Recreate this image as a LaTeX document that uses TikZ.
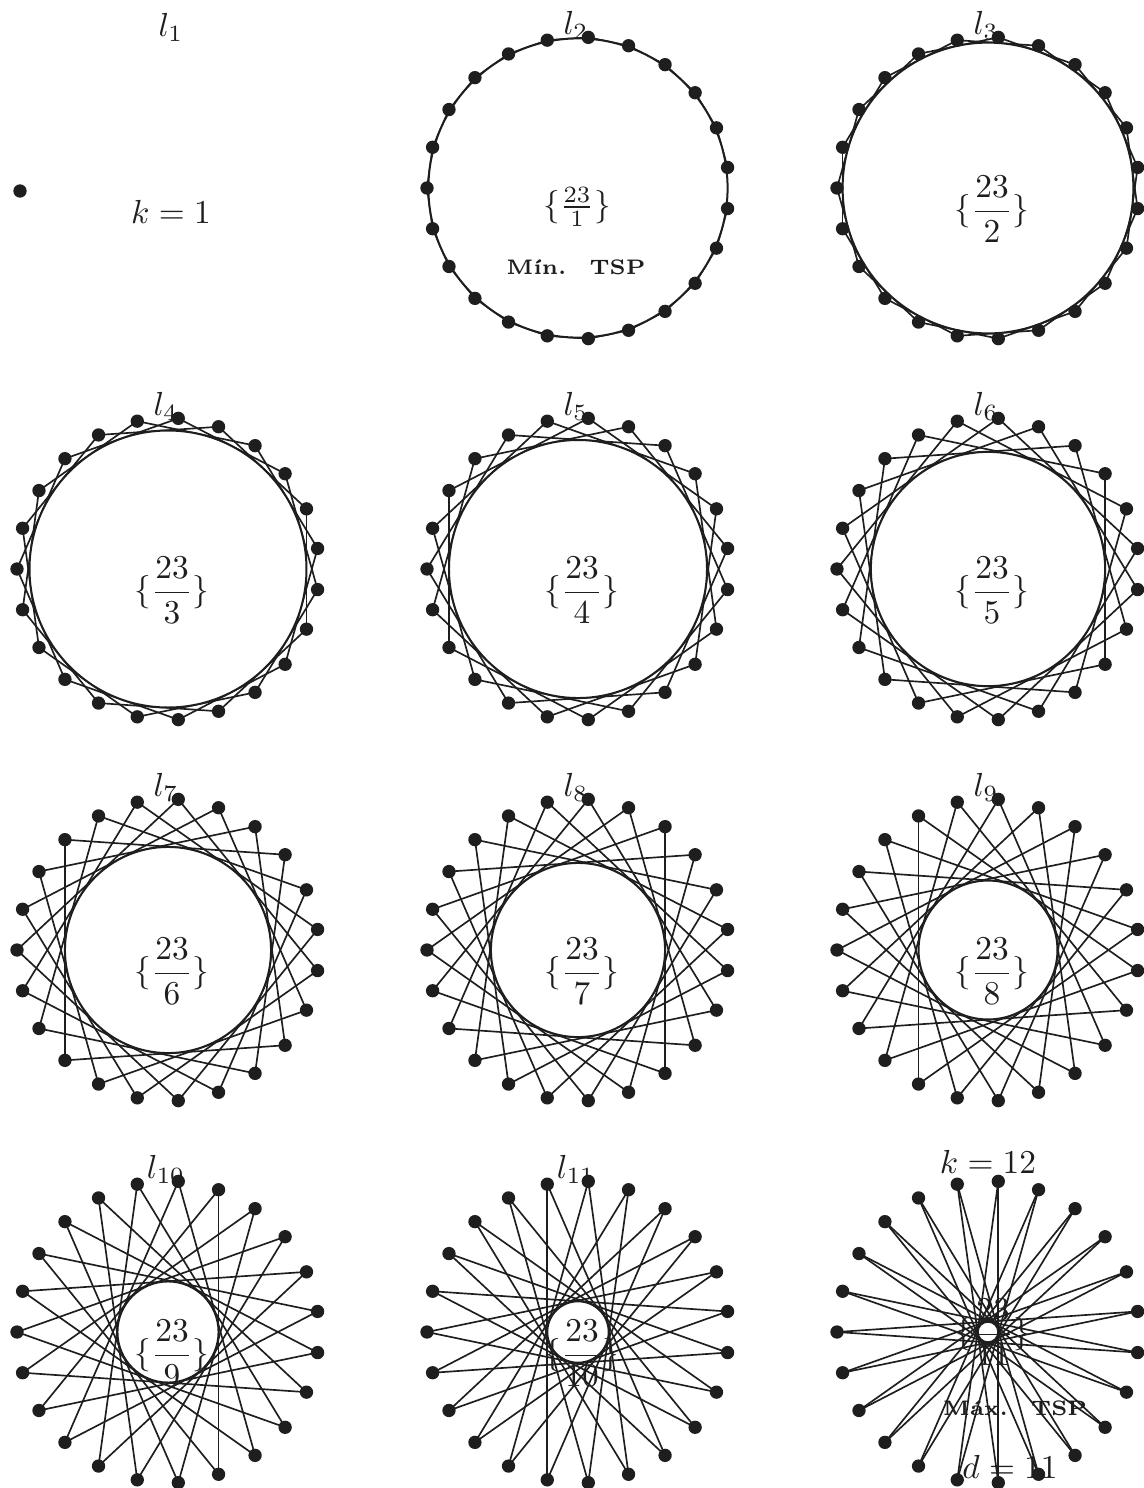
\documentclass[tikz,border=0pt]{standalone}
\usepackage{fontspec}
\usepackage{amsmath}
\definecolor{ink}{HTML}{1E1E1E}
\begin{document}
\begin{tikzpicture}[x=0.3pt,y=0.3pt,
  edge/.style={line width=0.5pt, draw=ink},
  envelope/.style={line width=0.6pt, draw=ink, fill=white},
  dot/.style={circle, fill=ink, inner sep=0pt, minimum size=4pt},
  lbl/.style={font=\fontsize{10}{12}\selectfont, text=ink, inner sep=0pt},
  tsp/.style={font=\fontsize{6.3}{7.5}\selectfont\bfseries, text=ink, inner sep=0pt}]
\useasboundingbox (0,0) rectangle (1144,-1488);

% panel 1: single point
\node[dot] (d1) at (20,-191) {};
\node[lbl] (lab1) at (171,-27) {$l_{1}$};
\node[lbl] (k1) at (171,-212) {$k=1$};

% panels 2..12: star polygons {23/(n-1)}
\foreach \n/\cx/\cy in {2/578/188, 3/988/188, 4/168/569, 5/578/569, 6/988/569,
                        7/168/950, 8/578/950, 9/988/950, 10/168/1332, 11/578/1332, 12/988/1332}{
  \pgfmathtruncatemacro{\s}{\n-1}
  \foreach \j in {0,...,22}{
    \coordinate (p\n-\j) at ({\cx+151*cos((2*\j+1)*180/23)}, {-\cy+151*sin((2*\j+1)*180/23)});
  }
  \foreach \j in {0,...,22}{
    \pgfmathtruncatemacro{\k}{mod(\j+\s,23)}
    \draw[edge] (p\n-\j) -- (p\n-\k);
  }
  \pgfmathsetmacro{\r}{151*cos(\s*180/23)}
  \draw[envelope] (\cx,-\cy) circle (\r);
}

% labels l_n
\foreach \n/\cx/\cy in {2/578/188, 3/988/188, 4/168/569, 5/578/569, 6/988/569,
                        7/168/950, 8/578/950, 9/988/950, 10/168/1332, 11/578/1332}{
  \node[lbl] (lab\n) at (\cx-2,-\cy+163) {$l_{\n}$};
}
\node[lbl] (k12) at (988,-1162) {$k=12$};

% fractions
\node[lbl] (f2) at (577,-207) {$\{\frac{23}{1}\}$};
\foreach \n/\cx/\cy in {3/988/188, 4/168/569, 5/578/569, 6/988/569,
                        7/168/950, 8/578/950, 9/988/950, 10/168/1332, 11/578/1332}{
  \pgfmathtruncatemacro{\s}{\n-1}
  \node[lbl] (f\n) at (\cx+4,-\cy-21) {$\{\dfrac{23}{\s}\}$};
}
\node[lbl] (f12) at (993,-1332) {$\{\dfrac{23}{11}\}$};

% TSP notes
\node[tsp] (min) at (576,-267) {Mín.\hspace{7pt}TSP};
\node[tsp] (max) at (1015,-1408) {Máx.\hspace{7pt}TSP};
\node[lbl] (dd) at (1010,-1467) {$d=11$};

% dots
\foreach \n in {2,...,12}{
  \foreach \j in {0,...,22}{
    \node[dot] (d\n-\j) at (p\n-\j) {};
  }
}
\end{tikzpicture}
\end{document}
